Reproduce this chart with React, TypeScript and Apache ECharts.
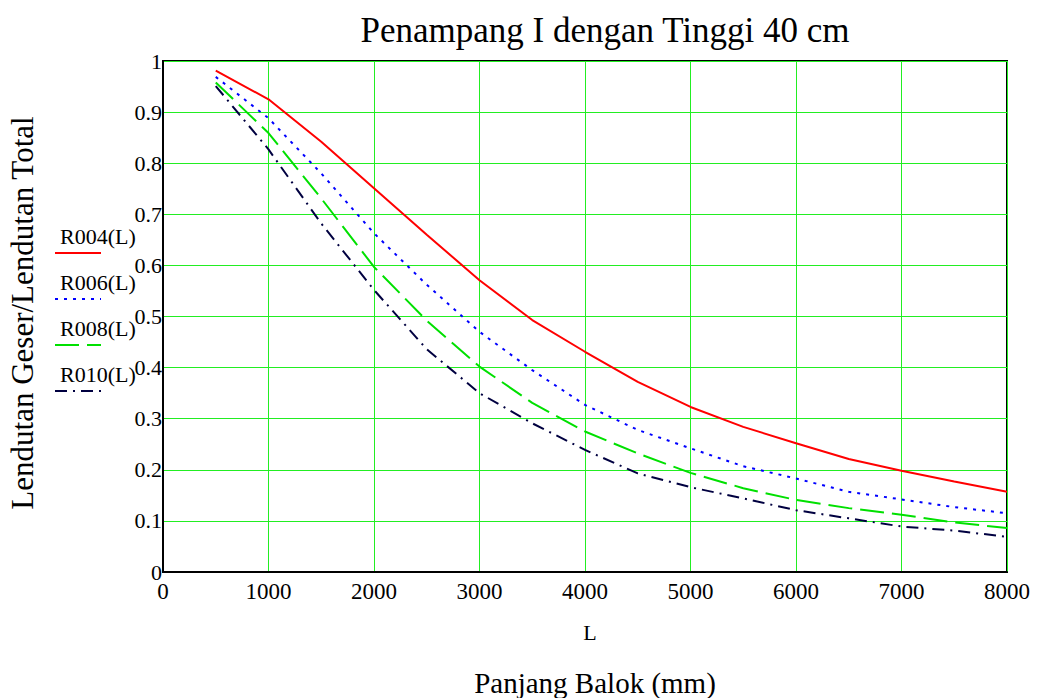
import React, { useEffect, useRef } from "react";
import * as echarts from "echarts";

const lengths = [500, 1000, 1500, 2000, 2500, 3000, 3500, 4000, 4500, 5000, 5500, 6000, 6500, 7000, 7500, 8000];
const r004 = [0.981, 0.925, 0.842, 0.751, 0.66, 0.571, 0.493, 0.431, 0.372, 0.323, 0.284, 0.252, 0.221, 0.198, 0.177, 0.157];
const r006 = [0.969, 0.888, 0.78, 0.663, 0.562, 0.47, 0.395, 0.327, 0.278, 0.242, 0.207, 0.183, 0.157, 0.142, 0.127, 0.115];
const r008 = [0.958, 0.859, 0.731, 0.597, 0.492, 0.402, 0.331, 0.275, 0.232, 0.194, 0.164, 0.141, 0.125, 0.112, 0.097, 0.086];
const r010 = [0.951, 0.827, 0.682, 0.552, 0.436, 0.35, 0.291, 0.239, 0.193, 0.166, 0.144, 0.121, 0.105, 0.089, 0.081, 0.069];

const seriesNames = ["R004(L)", "R006(L)", "R008(L)", "R010(L)"];
const seriesColors = ["#ff0000", "#0000ff", "#00e000", "#000040"];
const seriesDash: any[] = ["solid", [3, 6], [24, 8], [12, 6, 2, 6]];
const title = "Penampang I dengan Tinggi 40 cm";
const yTitle = "Lendutan Geser/Lendutan Total";
const xVar = "L";
const xTitle = "Panjang Balok (mm)";

const FONT = "'Liberation Serif', 'Times New Roman', serif";
const AXFONT = "Liberation Serif";

export default function App() {
  const ref = useRef<HTMLDivElement>(null);
  useEffect(() => {
    if (!ref.current) return;
    const chart = echarts.init(ref.current, null, { renderer: "svg" });
    const data = [r004, r006, r008, r010];
    const legendGraphics: any[] = [];
    seriesNames.forEach((n, i) => {
      const y0 = 236 + i * 46;
      legendGraphics.push({
        type: "text",
        x: 60,
        y: y0,
        style: { text: n, font: `22px ${FONT}`, fill: "#000", verticalAlign: "middle" },
      });
      legendGraphics.push({
        type: "line",
        shape: { x1: 55, y1: y0 + 17, x2: 101, y2: y0 + 17 },
        style: { stroke: seriesColors[i], lineWidth: 2, lineDash: seriesDash[i] === "solid" ? null : seriesDash[i] },
      });
    });
    chart.setOption({
      animation: false,
      backgroundColor: "#fff",
      title: {
        text: title,
        left: 600,
        top: 8,
        textAlign: "center",
        textStyle: { fontFamily: FONT, fontSize: 35, fontWeight: "normal", color: "#000" },
      },
      grid: { left: 163, top: 61, right: 34, bottom: 126, show: true, borderColor: "#000", borderWidth: 2 },
      xAxis: {
        type: "value",
        min: 0,
        max: 8000,
        interval: 1000,
        axisLine: { show: true, lineStyle: { color: "#000", width: 2 } },
        axisTick: { show: false },
        axisLabel: {
          fontFamily: AXFONT,
          fontSize: 23,
          color: "#000",
          margin: 8,
          showMaxLabel: true,
          showMinLabel: true,
          formatter: (v: number) => String(v),
        },
        splitLine: { show: true, lineStyle: { color: "#22ee22", width: 1 } },
      },
      yAxis: {
        type: "value",
        min: 0,
        max: 1,
        interval: 0.1,
        axisLine: { show: true, lineStyle: { color: "#000", width: 2 } },
        axisTick: { show: false },
        axisLabel: {
          fontFamily: AXFONT,
          fontSize: 22,
          color: "#000",
          margin: 1,
          padding: [6, 0, 0, 0],
          formatter: (v: number) => String(Math.round(v * 10) / 10),
        },
        splitLine: { show: true, lineStyle: { color: "#22ee22", width: 1 } },
      },
      series: seriesNames.map((n, i) => ({
        name: n,
        type: "line",
        showSymbol: false,
        symbol: "none",
        data: lengths.map((x, j) => [x, data[i][j]]),
        lineStyle: { color: seriesColors[i], width: 2, type: seriesDash[i] },
        itemStyle: { color: seriesColors[i] },
        z: 5 - i,
      })),
      graphic: [
        {
          type: "text",
          x: 22,
          y: 313,
          rotation: Math.PI / 2,
          style: { text: yTitle, font: `31px ${FONT}`, fill: "#000", align: "center", verticalAlign: "middle" },
        },
        {
          type: "text",
          x: 590,
          y: 632,
          style: { text: xVar, font: `22px ${FONT}`, fill: "#000", align: "center", verticalAlign: "middle" },
        },
        {
          type: "text",
          x: 595,
          y: 683,
          style: { text: xTitle, font: `29px ${FONT}`, fill: "#000", align: "center", verticalAlign: "middle" },
        },
        ...legendGraphics,
      ],
    });
    return () => chart.dispose();
  }, []);
  return <div ref={ref} style={{ width: 1041, height: 698, position: "absolute", left: 0, top: 0 }} />;
}
